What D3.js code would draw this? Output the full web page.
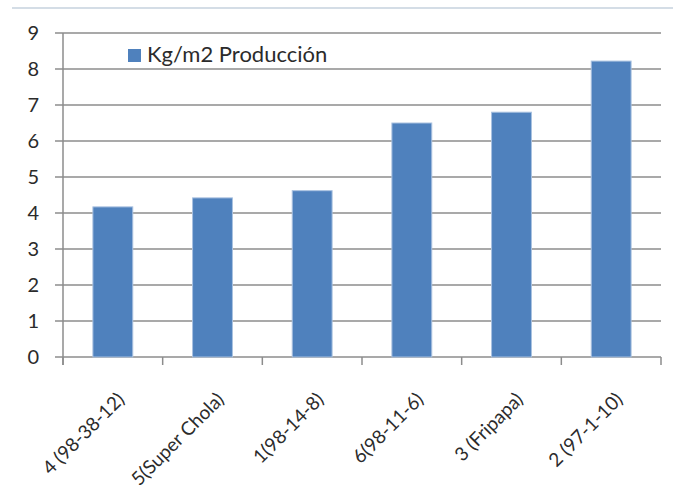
<!DOCTYPE html>
<html>
<head>
<meta charset="utf-8">
<script src="https://cdn.jsdelivr.net/npm/d3@7"></script>
<style>
  body { margin: 0; background: #fff; }
  svg text { font-family: Lato, "Open Sans", sans-serif; fill: #2b2b2b; }
</style>
</head>
<body>
<svg id="chart" width="673" height="503"></svg>
<script>
var categories = ["4 (98-38-12)", "5(Super Chola)", "1(98-14-8)", "6(98-11-6)", "3 (Fripapa)", "2 (97-1-10)"];
var values = [4.17, 4.42, 4.62, 6.5, 6.8, 8.22];
var yTicks = [0, 1, 2, 3, 4, 5, 6, 7, 8, 9];
var seriesName = "Kg/m2 Producción";

var svg = d3.select("#chart"),
  margin = { top: 33, right: 12, bottom: 146, left: 63 },
  width = +svg.attr("width") - margin.left - margin.right,
  height = +svg.attr("height") - margin.top - margin.bottom;

// faint frame line at the very top of the picture
svg.append("line")
  .attr("x1", 12).attr("x2", 673)
  .attr("y1", 8).attr("y2", 8)
  .attr("stroke", "#d4dde6")
  .attr("stroke-width", 2);

var x = d3.scaleBand().domain(categories).range([0, width]).paddingInner(0.6).paddingOuter(0.3);
var y = d3.scaleLinear().domain([0, 9]).range([height, 0]);

var g = svg.append("g")
  .attr("transform", "translate(" + margin.left + "," + margin.top + ")");

// gridlines
g.append("g")
  .selectAll("line")
  .data(yTicks)
  .enter().append("line")
  .attr("x1", -8).attr("x2", width)
  .attr("y1", function (d) { return y(d); })
  .attr("y2", function (d) { return y(d); })
  .attr("stroke", "#8c8c8c")
  .attr("stroke-width", 1.5);

// y labels
g.append("g")
  .selectAll("text")
  .data(yTicks)
  .enter().append("text")
  .attr("x", -24)
  .attr("y", function (d) { return y(d); })
  .attr("dy", "0.36em")
  .attr("text-anchor", "end")
  .style("font-size", "20px")
  .text(function (d) { return d; });

// bars
g.append("g")
  .selectAll("rect")
  .data(values)
  .enter().append("rect")
  .attr("x", function (d, i) { return x(categories[i]); })
  .attr("y", function (d) { return y(d); })
  .attr("width", x.bandwidth())
  .attr("height", function (d) { return height - y(d); })
  .attr("fill", "#4f81bd")
  .attr("stroke", "#a9c1e0")
  .attr("stroke-width", 1);

// y axis line
g.append("line")
  .attr("x1", 0).attr("x2", 0)
  .attr("y1", 0).attr("y2", height + 8)
  .attr("stroke", "#8c8c8c")
  .attr("stroke-width", 1.5);

// x axis ticks at category boundaries
var step = width / categories.length;
g.append("g")
  .selectAll("line")
  .data(d3.range(categories.length + 1))
  .enter().append("line")
  .attr("x1", function (d) { return d * step; })
  .attr("x2", function (d) { return d * step; })
  .attr("y1", height).attr("y2", height + 8)
  .attr("stroke", "#8c8c8c")
  .attr("stroke-width", 1.5);

// x labels, rotated
g.append("g")
  .selectAll("text")
  .data(categories)
  .enter().append("text")
  .attr("transform", function (d) {
    var cx = x(d) + x.bandwidth() / 2 + 8;
    return "translate(" + cx + "," + (height + 39) + ") rotate(-45)";
  })
  .attr("text-anchor", "end")
  .attr("dy", "0.35em")
  .style("font-size", "19px")
  .text(function (d) { return d; });

// legend
var legend = svg.append("g").attr("transform", "translate(128,49)");
legend.append("rect")
  .attr("width", 13).attr("height", 13)
  .attr("fill", "#4f81bd");
legend.append("text")
  .attr("x", 19).attr("y", 13)
  .style("font-size", "22px")
  .text(seriesName);
</script>
</body>
</html>
